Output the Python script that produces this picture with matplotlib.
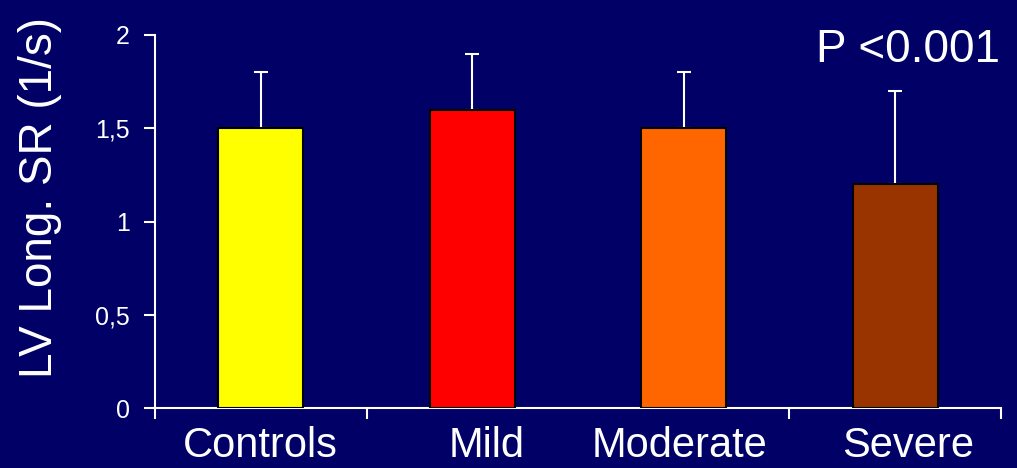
import matplotlib
matplotlib.use("Agg")
import matplotlib.pyplot as plt
import matplotlib.transforms as mtransforms
import numpy as np

groups = ["Controls", "Mild", "Moderate", "Severe"]
mean_sr = [1.5, 1.6, 1.5, 1.2]
sd_sr = [0.3, 0.3, 0.3, 0.5]
bar_colors = ["#FFFF00", "#FF0000", "#FF6600", "#993300"]
y_ticks = [0, 0.5, 1, 1.5, 2]
y_tick_labels = ["0", "0,5", "1", "1,5", "2"]

bg = "#000066"
plt.rcParams["font.family"] = ["Liberation Sans", "DejaVu Sans"]

W, H = 1017, 468
fig = plt.figure(figsize=(W / 100, H / 100), dpi=100, facecolor=bg)
ax = fig.add_axes([155 / W, 60 / H, 846 / W, 373 / H], facecolor=bg)

x = np.arange(len(groups))
ax.bar(x, mean_sr, width=0.4, color=bar_colors, edgecolor="black",
       linewidth=1.5, zorder=3)
ax.errorbar(x, mean_sr, yerr=[np.zeros(len(sd_sr)), sd_sr], fmt="none",
            ecolor="white", elinewidth=1.5, capsize=4.8, capthick=1.5, zorder=2)

ax.set_xlim(-0.5, len(groups) - 0.5)
ax.set_ylim(0, 2)

for side in ("top", "right"):
    ax.spines[side].set_visible(False)
for side in ("left", "bottom"):
    ax.spines[side].set_color("white")
    ax.spines[side].set_linewidth(1.5)

ax.set_yticks(y_ticks)
ax.set_yticklabels(y_tick_labels)
ax.tick_params(axis="y", colors="white", labelsize=18, length=8, width=1.5, pad=10)

ax.set_xticks(x)
ax.set_xticklabels(groups)
ax.tick_params(axis="x", which="major", length=0, colors="white", labelsize=30, pad=13)
ax.set_xticks([-0.5, 0.5, 2.5, 3.5], minor=True)
ax.tick_params(axis="x", which="minor", length=8, width=1.5, color="white")

# nudge category labels sideways (in points)
label_shift_pt = [0, 10, -3, 9]
for lab, dx in zip(ax.get_xticklabels(), label_shift_pt):
    lab.set_transform(lab.get_transform() +
                      mtransforms.ScaledTranslation(dx / 72, 0, fig.dpi_scale_trans))

# y-axis title, centred a little above the middle of the axis
fig.text(18 / W, 1 - 197 / H, "LV Long. SR (1/s)", rotation=90, ha="left",
         va="center", color="white", fontsize=33)

ax.text(1000 / W, 1 - 28 / H, "P <0.001", transform=fig.transFigure,
        ha="right", va="top", color="white", fontsize=33)

fig.savefig("out.png", dpi=100, facecolor=bg)
